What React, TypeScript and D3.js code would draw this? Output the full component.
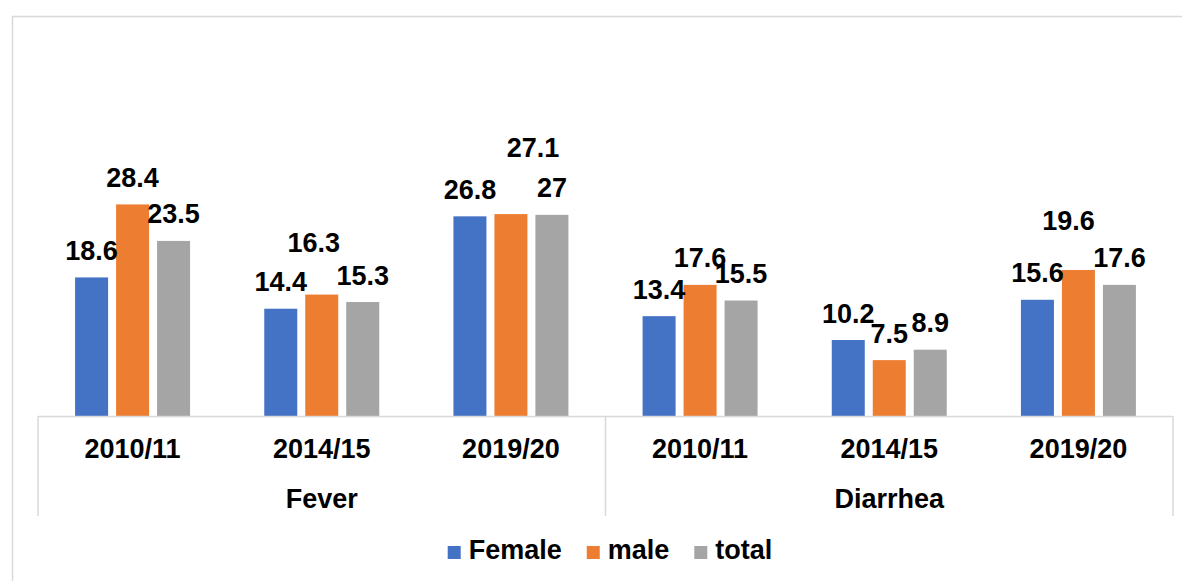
import React from "react";
import * as d3 from "d3";

const diseases = ["Fever", "Diarrhea"];
const years = ["2010/11", "2014/15", "2019/20"];
const seriesNames = ["Female", "male", "total"];
const femaleValues = [18.6, 14.4, 26.8, 13.4, 10.2, 15.6];
const maleValues = [28.4, 16.3, 27.1, 17.6, 7.5, 19.6];
const totalValues = [23.5, 15.3, 27, 15.5, 8.9, 17.6];

// label collisions moved by the original chart (group index, series index, dx, extra lift)
const labelNudges = [
  { g: 1, s: 1, dx: -8, lift: 25 },
  { g: 2, s: 1, dx: 22, lift: 40 },
  { g: 5, s: 1, dx: -10, lift: 22 },
];

const colors = ["#4472C4", "#ED7D31", "#A5A5A5"];
const W = 1182;
const H = 581;
const FONT = "'Liberation Sans', Arial, sans-serif";
const FS = 27;

function measure(text: string) {
  const c = document.createElement("canvas").getContext("2d");
  if (!c) return text.length * 15;
  c.font = `bold ${FS}px 'Liberation Sans', Arial, sans-serif`;
  return c.measureText(text).width;
}

export default function App() {
  const values = [femaleValues, maleValues, totalValues];
  const groups = diseases.flatMap((d) => years.map((y) => `${d}|${y}`));

  const axisLeft = 38;
  const axisRight = 1173;
  const baseY = 416;

  const x0 = d3.scaleBand<string>().domain(groups).range([axisLeft, axisRight]).paddingInner(0).paddingOuter(0);
  const x1 = d3
    .scaleBand<string>()
    .domain(seriesNames)
    .range([0, x0.bandwidth()])
    .paddingInner(0.195)
    .paddingOuter(0.905);
  const xd = d3.scaleBand<string>().domain(diseases).range([axisLeft, axisRight]);
  const y = d3.scaleLinear().domain([0, 30]).range([baseY, baseY - 30 * 7.45]);

  // legend layout
  const sq = 13;
  const gapSqText = 8;
  const gapItems = 25;
  const widths = seriesNames.map((s) => measure(s));
  const totalW = widths.reduce((a, w) => a + sq + gapSqText + w, 0) + gapItems * (seriesNames.length - 1);
  const legendCenter = 610;
  let lx = legendCenter - totalW / 2;
  const legendItems = seriesNames.map((s, i) => {
    const item = { name: s, x: lx, color: colors[i] };
    lx += sq + gapSqText + widths[i] + gapItems;
    return item;
  });

  const grid = "#d9d9d9";

  return (
    <div style={{ position: "fixed", left: 0, top: 0, width: W, height: H, background: "#fff" }}>
      <svg width={W} height={H} style={{ display: "block" }} fontFamily={FONT} fontWeight="bold">
        <rect x={0} y={0} width={W} height={H} fill="#fff" />
        <rect x={12.5} y={16.5} width={W + 20} height={H + 20} fill="none" stroke={grid} strokeWidth={1.5} />

        {groups.map((g, gi) => (
          <g key={g} transform={`translate(${x0(g)},0)`}>
            {seriesNames.map((s, si) => {
              const v = values[si][gi];
              const bx = x1(s)!;
              return (
                <rect
                  key={s}
                  x={bx}
                  y={y(v)}
                  width={x1.bandwidth()}
                  height={baseY - y(v)}
                  fill={colors[si]}
                />
              );
            })}
          </g>
        ))}

        {groups.map((g, gi) =>
          seriesNames.map((s, si) => {
            const v = values[si][gi];
            const nudge = labelNudges.find((n) => n.g === gi && n.s === si);
            const cx = x0(g)! + x1(s)! + x1.bandwidth() / 2 + (nudge ? nudge.dx : 0);
            const ty = y(v) - 17.5 - (nudge ? nudge.lift : 0);
            return (
              <text key={`${g}-${s}`} x={cx} y={ty} textAnchor="middle" fontSize={FS} fill="#000">
                {String(v)}
              </text>
            );
          })
        )}

        {/* category axis */}
        <line x1={axisLeft} x2={axisRight} y1={baseY + 0.5} y2={baseY + 0.5} stroke={grid} strokeWidth={1.5} />
        {[axisLeft, xd(diseases[1])!, axisRight].map((xx, i) => (
          <line key={i} x1={xx} x2={xx} y1={baseY} y2={516} stroke={grid} strokeWidth={1.5} />
        ))}
        {groups.map((g, gi) => (
          <text
            key={`yl-${g}`}
            x={x0(g)! + x0.bandwidth() / 2}
            y={458}
            textAnchor="middle"
            fontSize={FS}
            fill="#000"
          >
            {years[gi % years.length]}
          </text>
        ))}
        {diseases.map((d) => (
          <text key={d} x={xd(d)! + xd.bandwidth() / 2} y={508} textAnchor="middle" fontSize={FS} fill="#000">
            {d}
          </text>
        ))}

        {/* legend */}
        {legendItems.map((it) => (
          <g key={it.name}>
            <rect x={it.x} y={546} width={sq} height={sq} fill={it.color} />
            <text x={it.x + sq + gapSqText} y={559} fontSize={FS} fill="#000">
              {it.name}
            </text>
          </g>
        ))}
      </svg>
    </div>
  );
}
